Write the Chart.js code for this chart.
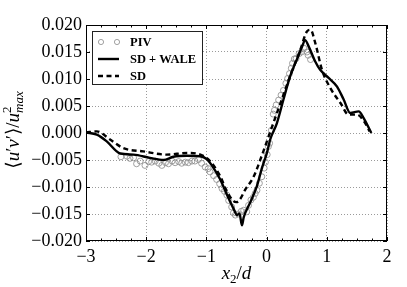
<!DOCTYPE html>
<html lang="en">
<head>
<meta charset="UTF-8">
<title>Reynolds shear stress profile</title>
<script src="https://cdn.jsdelivr.net/npm/chart.js@4"></script>
<style>
  html, body { margin: 0; padding: 0; background: #fff; }
</style>
</head>
<body>
<canvas id="stress" width="407" height="287"></canvas>
<script>
// x2/d positions and <u'v'>/u_max^2 values
const pivX = [-2.42, -2.32, -2.27, -2.21, -2.16, -2.10, -2.02, -1.96, -1.91, -1.85, -1.79, -1.74, -1.68, -1.63,
  -1.57, -1.52, -1.46, -1.41, -1.35, -1.30, -1.24, -1.19, -1.13, -1.08, -1.02, -0.97, -0.94, -0.88, -0.83,
  -0.78, -0.74, -0.70, -0.66, -0.63, -0.58, -0.55, -0.52, -0.47, -0.42, -0.38, -0.33, -0.30, -0.26, -0.22,
  -0.19, -0.16, -0.12, -0.08, -0.04, -0.02, 0.01, 0.03, 0.05, 0.08, 0.11, 0.13, 0.16, 0.20, 0.24, 0.28, 0.32,
  0.35, 0.38, 0.41, 0.43, 0.46, 0.49, 0.54, 0.58, 0.62, 0.67, 0.69, 0.73];
const pivY = [-0.0044, -0.0043, -0.0047, -0.0046, -0.0057, -0.0052, -0.0060, -0.0053, -0.0054, -0.0052, -0.0056,
  -0.0060, -0.0055, -0.0057, -0.0052, -0.0055, -0.0053, -0.0056, -0.0054, -0.0055, -0.0052, -0.0052, -0.0049,
  -0.0056, -0.0063, -0.0066, -0.0072, -0.0079, -0.0086, -0.0094, -0.0103, -0.0108, -0.0115, -0.0125, -0.0137,
  -0.0148, -0.0152, -0.0150, -0.0145, -0.0143, -0.0146, -0.0134, -0.0124, -0.0119, -0.0112, -0.0106, -0.0093,
  -0.0081, -0.0065, -0.0054, -0.0040, -0.0025, -0.0019, 0.0005, 0.0035, 0.0042, 0.0052, 0.0061, 0.0070, 0.0079,
  0.0092, 0.0101, 0.0110, 0.0120, 0.0129, 0.0137, 0.0138, 0.0147, 0.0150, 0.0157, 0.0150, 0.0144, 0.0136];

const waleX = [-3.00, -2.82, -2.66, -2.43, -2.21, -1.94, -1.71, -1.55, -1.32, -1.10, -0.99, -0.88, -0.77, -0.66,
  -0.55, -0.49, -0.45, -0.41, -0.38, -0.27, -0.16, -0.08, 0.01, 0.06, 0.17, 0.28, 0.39, 0.51, 0.59, 0.64, 0.70,
  0.81, 0.89, 1.03, 1.17, 1.28, 1.39, 1.53, 1.61, 1.74];
const waleY = [0.0001, -0.0003, -0.0015, -0.0038, -0.0040, -0.0046, -0.0050, -0.0044, -0.0042, -0.0043, -0.0049,
  -0.0065, -0.0086, -0.0114, -0.0140, -0.0152, -0.0149, -0.0171, -0.0156, -0.0128, -0.0098, -0.0066, -0.0035,
  -0.0012, 0.0018, 0.0062, 0.0105, 0.0138, 0.0160, 0.0172, 0.0160, 0.0132, 0.0117, 0.0102, 0.0086, 0.0062,
  0.0037, 0.0040, 0.0028, 0.0000];

const sdX = [-3.00, -2.82, -2.60, -2.38, -2.05, -1.66, -1.32, -1.10, -0.94, -0.77, -0.66, -0.55, -0.50, -0.45,
  -0.35, -0.22, -0.08, 0.06, 0.23, 0.39, 0.56, 0.67, 0.73, 0.81, 0.92, 1.06, 1.23, 1.36, 1.50, 1.64, 1.71];
const sdY = [0.0001, 0.0003, -0.0012, -0.0028, -0.0034, -0.0040, -0.0037, -0.0040, -0.0052, -0.0080, -0.0108,
  -0.0126, -0.0128, -0.0124, -0.0104, -0.0082, -0.0042, 0.0002, 0.0055, 0.0105, 0.0154, 0.0188, 0.0191, 0.0166,
  0.0117, 0.0083, 0.0055, 0.0034, 0.0034, 0.0018, 0.0003];

const xTicks = [-3, -2, -1, 0, 1, 2];
const yTicks = [-0.020, -0.015, -0.010, -0.005, 0.000, 0.005, 0.010, 0.015, 0.020];
const seriesNames = ['PIV', 'SD + WALE', 'SD'];

const SERIF = '"Liberation Serif", "DejaVu Serif", serif';
const pts = (xs, ys) => xs.map((v, i) => ({ x: v, y: ys[i] }));
const minus = s => s.replace('-', '\u2212');

// draws a run of text pieces centred on (0,0) of the current transform
function textRun(ctx, parts) {
    ctx.textAlign = 'left';
    ctx.textBaseline = 'alphabetic';
    let w = 0;
    parts.forEach(p => {
        ctx.font = p.f;
        p.w = ctx.measureText(p.t).width;
        if (!p.stack) w += p.w;
    });
    let pos = -w / 2, last = pos;
    parts.forEach(p => {
        ctx.font = p.f;
        const at = p.stack ? last : pos;
        ctx.fillText(p.t, at, p.dy || 0);
        if (!p.stack) { last = pos; pos += p.w; }
    });
}

const decorations = {
    id: 'decorations',
    afterDatasetsDraw(chart) {
        const { ctx, chartArea: a, scales: { x, y } } = chart;
        ctx.save();
        ctx.strokeStyle = '#000';
        ctx.lineWidth = 1;
        ctx.strokeRect(a.left + 0.5, a.top + 0.5, a.right - a.left - 1, a.bottom - a.top - 1);

        ctx.beginPath();
        for (let v = xTicks[0]; v <= xTicks[xTicks.length - 1] + 1e-9; v += 0.25) {
            const px = Math.round(x.getPixelForValue(v)) + 0.5;
            const len = Math.abs(v - Math.round(v)) < 1e-9 ? 4 : 2.5;
            ctx.moveTo(px, a.bottom); ctx.lineTo(px, a.bottom - len);
            ctx.moveTo(px, a.top); ctx.lineTo(px, a.top + len);
        }
        yTicks.forEach(v => {
            const py = Math.round(y.getPixelForValue(v)) + 0.5;
            ctx.moveTo(a.left, py); ctx.lineTo(a.left + 4, py);
            ctx.moveTo(a.right, py); ctx.lineTo(a.right - 4, py);
        });
        ctx.stroke();
        ctx.restore();
    },
    afterDraw(chart) {
        const { ctx, chartArea: a } = chart;
        const ds = chart.data.datasets;

        // legend box
        ctx.save();
        const lx = a.left + 6, ly = a.top + 6, lw = 110, lh = 53;
        ctx.fillStyle = '#fff';
        ctx.fillRect(lx, ly, lw, lh);
        ctx.strokeStyle = '#222';
        ctx.lineWidth = 1;
        ctx.strokeRect(lx + 0.5, ly + 0.5, lw, lh);

        const rows = [ly + 11, ly + 28, ly + 45];
        ctx.strokeStyle = ds[0].borderColor;
        ctx.lineWidth = ds[0].borderWidth;
        [lx + 9, lx + 25].forEach(cx => {
            ctx.beginPath();
            ctx.arc(cx, rows[0], 2.6, 0, Math.PI * 2);
            ctx.stroke();
        });
        [1, 2].forEach(k => {
            ctx.strokeStyle = ds[k].borderColor;
            ctx.lineWidth = ds[k].borderWidth;
            ctx.setLineDash(ds[k].borderDash || []);
            ctx.beginPath();
            ctx.moveTo(lx + 6, rows[k]); ctx.lineTo(lx + 27, rows[k]);
            ctx.stroke();
        });
        ctx.setLineDash([]);
        ctx.fillStyle = '#000';
        ctx.textAlign = 'left';
        ctx.font = 'bold 12.5px ' + SERIF;
        ctx.textBaseline = 'middle';
        seriesNames.forEach((n, i) => ctx.fillText(n, lx + 38, rows[i] + 1));
        ctx.restore();

        const it = 'italic 19px ' + SERIF, up = '19px ' + SERIF;
        const itS = 'italic 13px ' + SERIF, upS = '13px ' + SERIF;

        // x title
        ctx.save();
        ctx.fillStyle = '#000';
        ctx.translate((a.left + a.right) / 2, 279);
        textRun(ctx, [
            { t: 'x', f: it }, { t: '2', f: upS, dy: 4 }, { t: '/', f: up }, { t: 'd', f: it }
        ]);
        ctx.restore();

        // y title, rotated
        ctx.save();
        ctx.fillStyle = '#000';
        ctx.setTransform(0, -1, 1, 0, 19, (a.top + a.bottom) / 2 - 3);
        textRun(ctx, [
            { t: '\u27E8', f: up }, { t: 'u', f: it }, { t: '\u2032', f: up }, { t: 'v', f: it },
            { t: '\u2032', f: up }, { t: '\u27E9', f: up }, { t: '/', f: up }, { t: 'u', f: it },
            { t: 'max', f: itS, dy: 4 }, { t: '2', f: upS, dy: -8, stack: true }
        ]);
        ctx.restore();
    }
};

new Chart(document.getElementById('stress'), {
    type: 'scatter',
    data: {
        datasets: [{
            label: seriesNames[0],
            data: pts(pivX, pivY),
            showLine: false,
            pointRadius: 3,
            pointBorderWidth: 0.8,
            borderWidth: 0.8,
            borderColor: '#8a8a8a',
            pointBorderColor: '#8a8a8a',
            pointBackgroundColor: 'rgba(0,0,0,0)',
            order: 3
        }, {
            label: seriesNames[1],
            data: pts(waleX, waleY),
            showLine: true,
            pointRadius: 0,
            borderColor: '#000',
            borderWidth: 2.4,
            cubicInterpolationMode: 'monotone',
            order: 1
        }, {
            label: seriesNames[2],
            data: pts(sdX, sdY),
            showLine: true,
            pointRadius: 0,
            borderColor: '#000',
            borderWidth: 2.4,
            borderDash: [5, 3.5],
            cubicInterpolationMode: 'monotone',
            order: 2
        }]
    },
    options: {
        responsive: false,
        animation: false,
        layout: { padding: { left: 0, right: 20, top: 25, bottom: 0 } },
        plugins: { legend: { display: false }, tooltip: { enabled: false } },
        scales: {
            x: {
                type: 'linear',
                min: -3, max: 2,
                afterFit: s => { s.height = 46; },
                afterBuildTicks: s => { s.ticks = xTicks.map(v => ({ value: v })); },
                ticks: {
                    color: '#000', padding: 5,
                    font: { family: SERIF, size: 18 },
                    callback: v => minus(String(v))
                },
                grid: { color: '#9a9a9a', lineWidth: 1, drawTicks: false },
                border: { display: false, dash: [1, 2] }
            },
            y: {
                type: 'linear',
                min: -0.02, max: 0.02,
                afterFit: s => { s.width = 86; },
                afterBuildTicks: s => { s.ticks = yTicks.map(v => ({ value: v })); },
                ticks: {
                    color: '#000', padding: 4,
                    font: { family: SERIF, size: 18 },
                    callback: v => minus(Math.abs(v) < 1e-9 ? '0.000' : v.toFixed(3))
                },
                grid: { color: '#9a9a9a', lineWidth: 1, drawTicks: false },
                border: { display: false, dash: [1, 2] }
            }
        }
    },
    plugins: [decorations]
});
</script>
</body>
</html>
